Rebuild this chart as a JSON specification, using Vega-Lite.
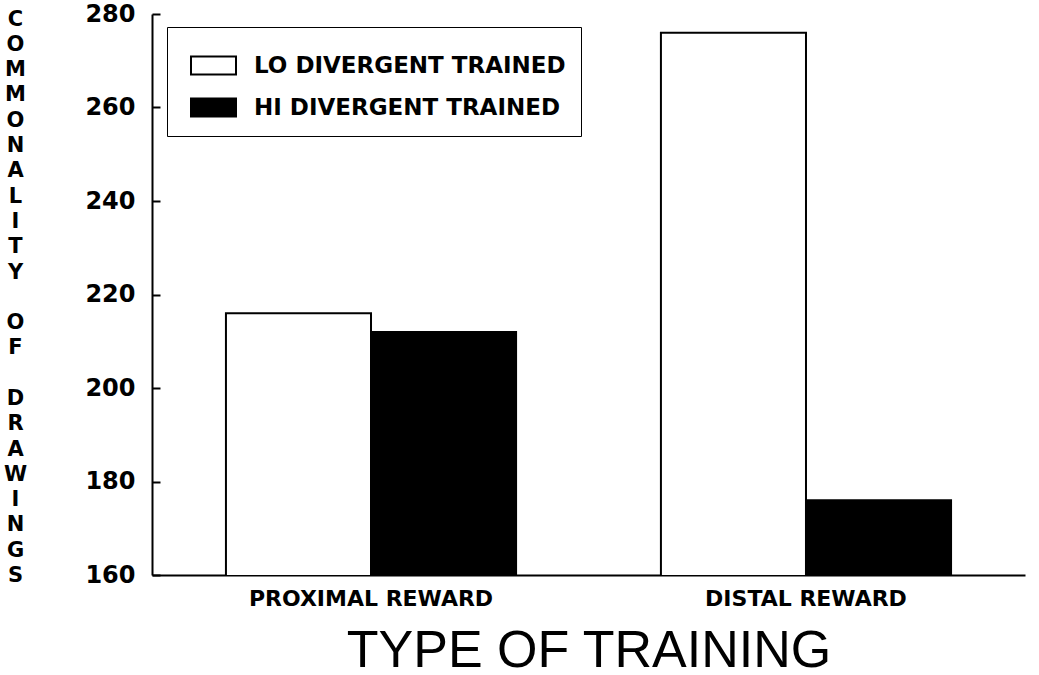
{
  "$schema": "https://vega.github.io/schema/vega-lite/v6.json",
  "width": 873,
  "height": 561,
  "autosize": {"type": "none"},
  "padding": {"left": 152, "top": 14, "right": 14, "bottom": 100},
  "background": "white",
  "data": {
    "values": [
      {"training": "PROXIMAL REWARD", "group": "LO DIVERGENT TRAINED", "commonality": 216},
      {"training": "PROXIMAL REWARD", "group": "HI DIVERGENT TRAINED", "commonality": 212},
      {"training": "DISTAL REWARD", "group": "LO DIVERGENT TRAINED", "commonality": 276},
      {"training": "DISTAL REWARD", "group": "HI DIVERGENT TRAINED", "commonality": 176}
    ]
  },
  "mark": {"type": "bar", "stroke": "black", "strokeWidth": 2, "clip": true},
  "encoding": {
    "x": {
      "field": "training",
      "type": "nominal",
      "sort": ["PROXIMAL REWARD", "DISTAL REWARD"],
      "scale": {"paddingInner": 0.333, "paddingOuter": 0.17},
      "axis": {
        "title": "TYPE OF TRAINING",
        "labelAngle": 0,
        "ticks": false,
        "labelPadding": 13,
        "labelLimit": 500,
        "labelFont": "DejaVu Sans",
        "labelFontWeight": "bold",
        "labelFontSize": 22,
        "labelColor": "black",
        "domainColor": "black",
        "domainWidth": 2,
        "titleFont": "Liberation Sans",
        "titleFontWeight": "normal",
        "titleFontSize": 52,
        "titleColor": "black",
        "titleBaseline": "alphabetic",
        "titleY": 91
      }
    },
    "xOffset": {
      "field": "group",
      "type": "nominal",
      "sort": ["LO DIVERGENT TRAINED", "HI DIVERGENT TRAINED"],
      "scale": {"paddingInner": 0, "paddingOuter": 0}
    },
    "y": {
      "field": "commonality",
      "type": "quantitative",
      "scale": {"domain": [160, 280], "zero": false, "nice": false},
      "axis": {
        "values": [160, 180, 200, 220, 240, 260, 280],
        "grid": false,
        "tickSize": -8,
        "tickWidth": 2,
        "tickColor": "black",
        "domainColor": "black",
        "domainWidth": 2,
        "labelPadding": 25,
        "labelFont": "DejaVu Sans",
        "labelFontWeight": "bold",
        "labelFontSize": 24,
        "labelColor": "black",
        "title": ["C","O","M","M","O","N","A","L","I","T","Y","\u2800","O","F","\u2800","D","R","A","W","I","N","G","S"],
        "titleAngle": 0,
        "titleFont": "DejaVu Sans",
        "titleFontWeight": "bold",
        "titleFontSize": 21,
        "titleColor": "black",
        "titleAlign": "center",
        "titleBaseline": "top",
        "titleLineHeight": 25.3,
        "titleX": -137,
        "titleY": -6
      }
    },
    "fill": {
      "field": "group",
      "type": "nominal",
      "sort": ["LO DIVERGENT TRAINED", "HI DIVERGENT TRAINED"],
      "scale": {"domain": ["LO DIVERGENT TRAINED", "HI DIVERGENT TRAINED"], "range": ["white", "black"]},
      "legend": {
        "title": null,
        "orient": "none",
        "legendX": 15,
        "legendY": 13,
        "padding": 15,
        "strokeColor": "black",
        "fillColor": "white",
        "symbolType": "M-1,-0.4H1V0.4H-1Z",
        "symbolSize": 2025,
        "symbolOffset": 8,
        "symbolStrokeColor": "black",
        "symbolStrokeWidth": 2,
        "labelFont": "DejaVu Sans",
        "labelFontWeight": "bold",
        "labelFontSize": 23,
        "labelColor": "black",
        "labelOffset": 17,
        "labelLimit": 500,
        "rowPadding": 5
      }
    }
  },
  "config": {"view": {"stroke": null}}
}
